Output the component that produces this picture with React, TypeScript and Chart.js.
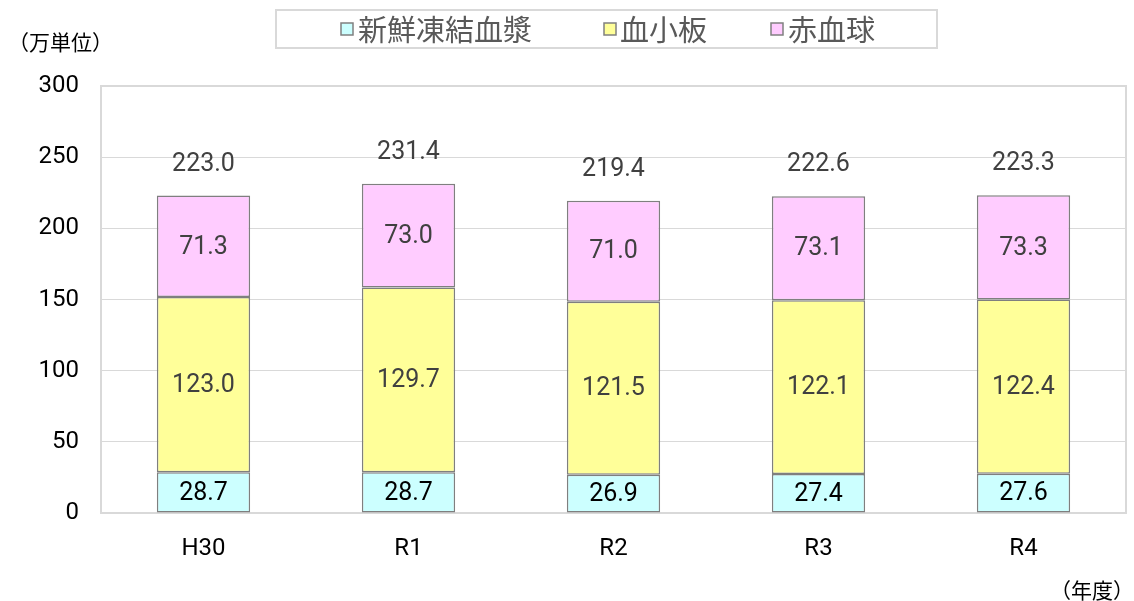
import React, { useEffect, useRef } from "react";
import { Chart, registerables } from "chart.js";

Chart.register(...registerables);

const categories = ["H30", "R1", "R2", "R3", "R4"];
const seriesNames = ["新鮮凍結血漿", "血小板", "赤血球"];
const plasma = [28.7, 28.7, 26.9, 27.4, 27.6];
const platelets = [123.0, 129.7, 121.5, 122.1, 122.4];
const redCells = [71.3, 73.0, 71.0, 73.1, 73.3];
const totals = [223.0, 231.4, 219.4, 222.6, 223.3];
const yTicks = [0, 50, 100, 150, 200, 250, 300];
const colors = ["#CCFFFF", "#FFFF99", "#FFCCFF"];
const labelColors = ["#000000", "#404040", "#404040"];

const FONT = "Roboto, 'Noto Sans CJK JP', sans-serif";
const JFONT = "'Noto Sans CJK JP', sans-serif";

export default function App() {
  const ref = useRef<HTMLCanvasElement | null>(null);
  useEffect(() => {
    if (!ref.current) return;
    const series = [plasma, platelets, redCells];
    const overlay = {
      id: "overlay",
      beforeDatasetsDraw(chart: any) {
        const { ctx, chartArea: a } = chart;
        ctx.save();
        ctx.strokeStyle = "#d9d9d9";
        ctx.lineWidth = 2;
        ctx.strokeRect(a.left, a.top, a.right - a.left, a.bottom - a.top);
        ctx.restore();
      },
      afterDatasetsDraw(chart: any) {
        const { ctx } = chart;
        ctx.save();
        ctx.textAlign = "center";
        ctx.textBaseline = "middle";
        ctx.font = `25px ${FONT}`;
        series.forEach((vals, i) => {
          const meta = chart.getDatasetMeta(i);
          meta.data.forEach((el: any, j: number) => {
            ctx.fillStyle = labelColors[i];
            ctx.fillText(vals[j].toFixed(1), el.x, (el.y + el.base) / 2 + 1);
          });
        });
        const top = chart.getDatasetMeta(2);
        top.data.forEach((el: any, j: number) => {
          ctx.fillStyle = "#404040";
          ctx.fillText(totals[j].toFixed(1), el.x, el.y - 31);
        });
        ctx.restore();
      },
      afterDraw(chart: any) {
        const { ctx } = chart;
        ctx.save();
        // legend
        ctx.strokeStyle = "#d9d9d9";
        ctx.lineWidth = 2;
        ctx.strokeRect(276, 10, 661, 38);
        const sq = [341, 604, 771];
        const tx = [358, 620, 788];
        ctx.textBaseline = "middle";
        ctx.textAlign = "left";
        ctx.font = `29px ${JFONT}`;
        seriesNames.forEach((n, i) => {
          ctx.fillStyle = colors[i];
          ctx.fillRect(sq[i], 23, 12, 12);
          ctx.strokeStyle = "#808080";
          ctx.lineWidth = 1.5;
          ctx.strokeRect(sq[i], 23, 12, 12);
          ctx.fillStyle = "#595959";
          ctx.fillText(n, tx[i], 30);
        });
        ctx.fillStyle = "#000000";
        ctx.font = `21px ${JFONT}`;
        ctx.fillText("（万単位）", 8, 42);
        ctx.textAlign = "right";
        ctx.fillText("（年度）", 1134, 590);
        ctx.restore();
      },
    };
    const chart = new Chart(ref.current, {
      type: "bar",
      data: {
        labels: categories,
        datasets: series.map((d, i) => ({
          label: seriesNames[i],
          data: d,
          backgroundColor: colors[i],
          borderColor: "#7f7f7f",
          borderWidth: 1.5,
          borderSkipped: false,
          barPercentage: 0.455,
          categoryPercentage: 1,
        })),
      },
      options: {
        animation: false,
        responsive: false,
        layout: { padding: { left: 0, top: 86, right: 8, bottom: 0 } },
        plugins: { legend: { display: false }, tooltip: { enabled: false } },
        scales: {
          x: {
            stacked: true,
            grid: { display: false, drawTicks: false },
            border: { display: true, color: "#d9d9d9", width: 2 },
            ticks: { color: "#000", font: { size: 24, family: FONT }, padding: 22 },
            afterFit(s: any) { s.height = 88; },
          },
          y: {
            stacked: true,
            min: 0,
            max: 300,
            afterBuildTicks(s: any) { s.ticks = yTicks.map((v) => ({ value: v })); },
            grid: { color: "#d9d9d9", lineWidth: 1, drawTicks: false },
            border: { display: true, color: "#d9d9d9", width: 2 },
            ticks: { color: "#000", font: { size: 24, family: FONT }, padding: 22 },
            afterFit(s: any) { s.width = 101; },
          },
        },
      },
      plugins: [overlay],
    });
    return () => chart.destroy();
  }, []);
  return (
    <div style={{ position: "fixed", left: 0, top: 0, width: 1134, height: 601, background: "#fff" }}>
      <canvas ref={ref} width={1134} height={601} style={{ width: 1134, height: 601 }} />
    </div>
  );
}
